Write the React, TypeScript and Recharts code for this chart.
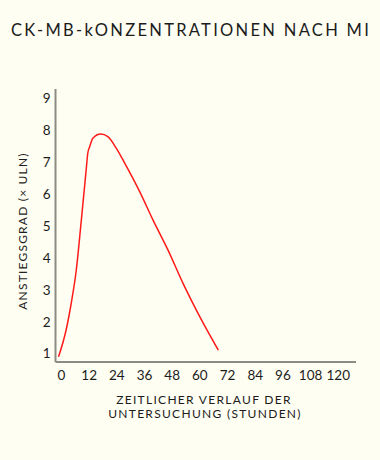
import { LineChart, Line, XAxis, YAxis } from "recharts";

// Stunden nach Infarkt
const hours = [-1.3, 2, 4.2, 6.4, 8.6, 10.7, 11.4, 12.2, 13.6, 17, 20.1, 23.8, 27.1, 33.9, 39.7, 46.2, 52.7, 60, 68];
// CK-MB als Vielfaches der oberen Normgrenze
const ckmb = [0.9, 1.74, 2.57, 3.61, 5.18, 6.75, 7.27, 7.47, 7.74, 7.87, 7.79, 7.42, 7.0, 6.07, 5.18, 4.24, 3.2, 2.15, 1.11];

const xTicks = [0, 12, 24, 36, 48, 60, 72, 84, 96, 108, 120];
const yTicks = [1, 2, 3, 4, 5, 6, 7, 8, 9];

const data = hours.map((h, i) => ({ h, v: ckmb[i] }));

const FONT = "Lato, 'Open Sans', sans-serif";
const INK = "#1c1c1c";
const AXIS = "#8c8c84";

export default function App() {
    return (
        <div
            style={{
                position: "absolute",
                top: 0,
                left: 0,
                width: 380,
                height: 460,
                background: "#fefef2",
                fontFamily: FONT,
            }}
        >
            <LineChart
                width={380}
                height={460}
                data={data}
                margin={{ top: 89, right: 24, bottom: 68, left: 0 }}
            >
                <XAxis
                    dataKey="h"
                    type="number"
                    domain={[-2.6, 127.7]}
                    ticks={xTicks}
                    interval={0}
                    allowDataOverflow
                    tickLine={false}
                    height={30}
                    axisLine={{ stroke: AXIS, strokeWidth: 2 }}
                    tick={{ fill: INK, fontSize: 13.5, fontFamily: FONT }}
                />
                <YAxis
                    type="number"
                    domain={[0.74, 9.28]}
                    ticks={yTicks}
                    interval={0}
                    allowDataOverflow
                    tickLine={false}
                    tickSize={3}
                    tickMargin={2}
                    width={55.5}
                    axisLine={{ stroke: AXIS, strokeWidth: 2 }}
                    tick={{ fill: INK, fontSize: 13.5, fontFamily: FONT }}
                />
                <Line
                    dataKey="v"
                    type="monotone"
                    stroke="#ff1a1a"
                    strokeWidth={1.5}
                    dot={false}
                    isAnimationActive={false}
                />
            </LineChart>

            {/* Titel und Achsenbeschriftungen */}
            <svg
                width={380}
                height={460}
                style={{ position: "absolute", top: 0, left: 0, pointerEvents: "none" }}
            >
                <text x={191} y={36} textAnchor="middle" fontSize={16.5} letterSpacing={2.3} fill={INK} fontFamily={FONT}>
                    CK-MB-kONZENTRATIONEN NACH MI
                </text>
                <text
                    transform="translate(26.5,231) rotate(-90)"
                    textAnchor="middle"
                    fontSize={12}
                    letterSpacing={1.2}
                    fill={INK}
                    fontFamily={FONT}
                >
                    ANSTIEGSGRAD (× ULN)
                </text>
                <text textAnchor="middle" fontSize={12} letterSpacing={1.3} fill={INK} fontFamily={FONT}>
                    <tspan x={204} y={404}>ZEITLICHER VERLAUF DER</tspan>
                    <tspan x={205} y={418}>UNTERSUCHUNG (STUNDEN)</tspan>
                </text>
            </svg>
        </div>
    );
}
